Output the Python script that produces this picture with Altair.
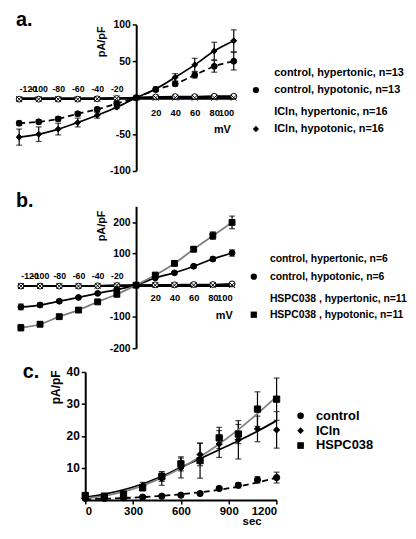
import altair as alt
import pandas as pd

FONT = "Liberation Sans"
XPATH = "M-1,-1L1,1M-1,1L1,-1"

# ---------------- panel a / b : I-V curves ----------------
mv = [-120, -100, -80, -60, -40, -20, 0, 20, 40, 60, 80, 100]

a_names = ["control, hypertonic, n=13", "control, hypotonic, n=13",
           "ICln, hypertonic, n=16", "ICln, hypotonic, n=16"]
a_ctrl_hyper = [-2, -2, -2, -2, -1.5, -1, 0, 1, 1.5, 1.5, 2, 2]
a_ctrl_hyper_err = [1, 1, 1, 1, 1, 0.5, 0, 0.5, 1, 1, 1, 1]
a_ctrl_hypo = [-35, -33, -29, -22, -16, -8, 0, 11, 19, 31, 43, 50]
a_ctrl_hypo_err = [3, 3, 3, 3, 3, 2, 0, 2, 3, 4, 8, 12]
a_icln_hyper = [-2, -2, -2, -2, -1.5, -1, 0, 0, 0, 0, 0, 0]
a_icln_hyper_err = [1, 1, 1, 1, 1, 0.5, 0, 0.5, 1, 1, 1, 1]
a_icln_hypo = [-54, -50, -43, -34, -24, -13, 0, 12, 28, 45, 64, 78]
a_icln_hypo_err = [11, 10, 8, 6, 4, 2, 0, 3, 5, 9, 12, 15]

b_names = ["control, hypertonic, n=6", "control, hypotonic, n=6",
           "HSPC038 , hypertonic, n=11", "HSPC038 , hypotonic, n=11"]
b_ctrl_hyper = [-3, -3, -3, -3, -2, -1, 0, 1, 1, 2, 2, 4]
b_ctrl_hyper_err = [2, 2, 2, 2, 2, 1, 0, 1, 2, 2, 2, 3]
b_ctrl_hypo = [-69, -63, -51, -39, -26, -14, 0, 23, 39, 60, 83, 102]
b_ctrl_hypo_err = [9, 6, 4, 3, 3, 2, 0, 3, 4, 5, 6, 10]
b_hspc_hyper = [-3, -3, -3, -3, -2, -1, 0, 0, 0, 0, 0, 0]
b_hspc_hyper_err = [2, 2, 2, 2, 2, 1, 0, 1, 2, 2, 2, 3]
b_hspc_hypo = [-135, -124, -100, -79, -53, -29, 0, 32, 69, 114, 157, 199]
b_hspc_hypo_err = [10, 8, 6, 5, 4, 4, 0, 4, 5, 8, 12, 20]

# ---------------- panel c : time course ----------------
sec = [0, 120, 240, 360, 480, 600, 720, 840, 960, 1080, 1200]
c_names = ["control", "ICln", "HSPC038"]
c_ctrl = [0.5, 0.5, 0.7, 0.9, 1.2, 1.5, 2.0, 3.6, 4.6, 6.3, 7.0]
c_ctrl_err = [0.2, 0.2, 0.3, 0.3, 0.3, 0.4, 0.4, 0.6, 0.8, 1.0, 1.7]
c_icln = [0.5, 0.8, 1.0, 4.5, 6.7, 10.0, 14.2, 17.5, 18.8, 22.2, 21.9]
c_icln_err = [0.3, 0.5, 1.0, 1.0, 2.1, 3.1, 3.5, 4.2, 6.0, 4.0, 5.7]
c_hspc = [1.4, 1.2, 1.8, 3.8, 7.3, 11.3, 12.3, 19.4, 20.6, 28.4, 31.5]
c_hspc_err = [0.4, 0.5, 1.2, 0.8, 1.5, 2.2, 5.5, 3.3, 3.0, 5.4, 6.6]
c_fit_ctrl = [0.3, 0.4, 0.6, 0.9, 1.3, 1.8, 2.4, 3.2, 4.2, 5.5, 7.0]
c_fit_icln = [0.8, 1.8, 3.2, 5.0, 7.4, 10.2, 12.9, 15.7, 18.5, 21.5, 24.8]
c_fit_hspc = [0.5, 1.3, 2.6, 4.5, 7.0, 10.0, 13.5, 17.5, 22.0, 27.0, 32.3]


def make_df(x, names, vals, errs):
    rows = []
    for n, vs, es in zip(names, vals, errs):
        for xi, v, e in zip(x, vs, es):
            rows.append({"x": xi, "y": v, "lo": v - e, "hi": v + e, "series": n})
    return pd.DataFrame(rows)


def axis(**kw):
    base = dict(labelFont=FONT, labelFontWeight="bold", labelColor="black",
                titleFont=FONT, titleFontWeight="bold", titleColor="black",
                domainColor="black", domainWidth=2, tickColor="black",
                tickWidth=1.5, grid=False, labelOverlap=False,
                labelExpr="'' + datum.value")
    base.update(kw)
    return alt.Axis(**base)


def legend(x, y, size, offset, pad, ssize):
    return alt.Legend(title=None, orient="none", legendX=x, legendY=y, padding=0,
                      labelFont=FONT, labelFontWeight="bold", labelFontSize=size,
                      labelColor="black", labelOffset=offset, rowPadding=pad,
                      symbolStrokeColor="black", symbolStrokeWidth=1,
                      symbolSize=ssize, symbolOpacity=1, labelLimit=0)


def line_layer(df, xs, ys, series, color, dashed):
    kw = dict(color=color, strokeWidth=1.8, interpolate="monotone")
    if dashed:
        kw["strokeDash"] = [6, 4]
    return alt.Chart(df).transform_filter(alt.datum.series == series).mark_line(**kw).encode(
        x=alt.X("x:Q", scale=xs, axis=None), y=alt.Y("y:Q", scale=ys, axis=None))


def label_layer(text, x, y):
    return alt.Chart(pd.DataFrame({"t": [text]})).mark_text(
        align="left", baseline="alphabetic", font=FONT, fontWeight="bold",
        fontSize=20, color="black").encode(
        text="t:N", x=alt.value(x), y=alt.value(y))


def iv_panel(df, names, trt_shape, hypo_color, ctrl_dashed, xr, yr, ydom, yvals, h, y0,
             lab_pad, mv_xy, pa_xy, leg1, leg2, label, label_xy):
    xs = alt.Scale(domain=[-120, 100], range=xr, nice=False, zero=False)
    ys = alt.Scale(domain=ydom, range=yr, nice=False, zero=False)
    x0 = xr[0] + (xr[1] - xr[0]) * 120 / 220
    top_axis = axis(orient="top", offset=-y0, values=[-120, -100, -80, -60, -40, -20],
                    ticks=False, labelPadding=5, labelFontSize=8.8, title=None)
    bottom_axis = axis(orient="bottom", offset=y0 - h, values=[20, 40, 60, 80, 100],
                       ticks=False, labelPadding=lab_pad, labelFontSize=9.4,
                       title="mV", titleFontSize=11, titleX=mv_xy[0], titleY=mv_xy[1],
                       titleAlign="center", titleBaseline="middle")
    y_axis = axis(orient="left", offset=-x0, values=yvals, tickSize=4, labelPadding=2,
                  labelFontSize=10.5, title="pA/pF", titleFontSize=11,
                  titleX=pa_xy[0] - x0, titleY=pa_xy[1], titleAlign="center",
                  titleBaseline="middle")
    base = alt.Chart(df)
    rules = base.mark_rule(color="black", strokeWidth=1.2).encode(
        x=alt.X("x:Q", scale=xs, axis=top_axis),
        y=alt.Y("lo:Q", scale=ys, axis=y_axis), y2="hi:Q")
    caps_hi = base.mark_tick(orient="horizontal", size=6, thickness=1.2, color="black").encode(
        x=alt.X("x:Q", scale=xs, axis=bottom_axis), y=alt.Y("hi:Q", scale=ys, axis=None))
    caps_lo = base.mark_tick(orient="horizontal", size=6, thickness=1.2, color="black").encode(
        x=alt.X("x:Q", scale=xs, axis=None), y=alt.Y("lo:Q", scale=ys, axis=None))
    lines = [line_layer(df, xs, ys, names[0], "black", False),
             line_layer(df, xs, ys, names[2], "black", False),
             line_layer(df, xs, ys, names[1], "black", ctrl_dashed),
             line_layer(df, xs, ys, names[3], hypo_color, False)]
    ctrl = names[:2]
    trt = names[2:]
    pts_c = base.transform_filter(alt.FieldOneOfPredicate(field="series", oneOf=ctrl)).mark_point(
        filled=True, stroke="black", strokeWidth=1, size=35, opacity=1).encode(
        x=alt.X("x:Q", scale=xs, axis=None), y=alt.Y("y:Q", scale=ys, axis=None),
        shape=alt.Shape("series:N", scale=alt.Scale(domain=ctrl, range=["circle", "circle"]), legend=leg1),
        fill=alt.Fill("series:N", scale=alt.Scale(domain=ctrl, range=["white", "black"]), legend=leg1))
    pts_t = base.transform_filter(alt.FieldOneOfPredicate(field="series", oneOf=trt)).mark_point(
        filled=True, stroke="black", strokeWidth=1, size=35, opacity=1).encode(
        x=alt.X("x:Q", scale=xs, axis=None), y=alt.Y("y:Q", scale=ys, axis=None),
        shape=alt.Shape("series:N", scale=alt.Scale(domain=trt, range=[XPATH, trt_shape]), legend=leg2),
        fill=alt.Fill("series:N", scale=alt.Scale(domain=trt, range=["black", "black"]), legend=leg2))
    lab = label_layer(label, label_xy[0], label_xy[1])
    return alt.layer(rules, caps_hi, caps_lo, *lines, pts_c, pts_t, lab).resolve_axis(
        x="independent", y="independent").resolve_scale(
        shape="independent", fill="independent").properties(width=400, height=h)


df_a = make_df(mv, a_names, [a_ctrl_hyper, a_ctrl_hypo, a_icln_hyper, a_icln_hypo],
               [a_ctrl_hyper_err, a_ctrl_hypo_err, a_icln_hyper_err, a_icln_hypo_err])
df_b = make_df(mv, b_names, [b_ctrl_hyper, b_ctrl_hypo, b_hspc_hyper, b_hspc_hypo],
               [b_ctrl_hyper_err, b_ctrl_hypo_err, b_hspc_hyper_err, b_hspc_hypo_err])

H_A, H_B, H_C = 167, 178, 175

panel_a = iv_panel(df_a, a_names, "diamond", "black", True,
                   [11.3, 228], [161.7, 14.3], [-100, 100], [-100, -50, 50, 100],
                   H_A, 88.3, 11, (216, 32), (94.7, 31),
                   legend(244.9, 57.2, 11, 13, 5.6, 40), legend(244.9, 96.5, 11, 13, 5.6, 40),
                   "a.", (8, 16))

panel_b = iv_panel(df_b, b_names, "square", "#808080", False,
                   [13, 226.3], [173, 29.7], [-200, 250], [-200, -100, 100, 200],
                   H_B, 109.7, 8, (218, 30), (94.7, 49),
                   legend(243, 77.7, 10.5, 11, 6.8, 40), legend(243, 117.7, 10.5, 11, 5.2, 40),
                   "b.", (8, 30))

# panel c
df_c = make_df(sec, c_names, [c_ctrl, c_icln, c_hspc], [c_ctrl_err, c_icln_err, c_hspc_err])
fit_rows = []
for n, f in zip(c_names, [c_fit_ctrl, c_fit_icln, c_fit_hspc]):
    for xi, v in zip(sec, f):
        fit_rows.append({"x": xi, "y": v, "series": n})
df_fit = pd.DataFrame(fit_rows)

xs_c = alt.Scale(domain=[0, 1200], range=[78, 271.3], nice=False, zero=False)
ys_c = alt.Scale(domain=[0, 40], range=[147.3, 18], nice=False, zero=False)
x_axis_c = axis(orient="bottom", offset=147.3 - H_C, values=[0, 300, 600, 900, 1200],
                tickSize=4, labelPadding=2, labelFontSize=11.5, title="sec",
                titleFontSize=11.5, titleX=246, titleY=22, titleAlign="center",
                titleBaseline="middle")
y_axis_c = axis(orient="left", offset=-78, values=[10, 20, 30, 40], tickSize=4,
                labelPadding=2, labelFontSize=12, title="pA/pF", titleFontSize=12,
                titleX=-30, titleY=33, titleAlign="center", titleBaseline="middle")
base_c = alt.Chart(df_c)
rules_c = base_c.mark_rule(color="black", strokeWidth=1.2).encode(
    x=alt.X("x:Q", scale=xs_c, axis=x_axis_c),
    y=alt.Y("lo:Q", scale=ys_c, axis=y_axis_c), y2="hi:Q")
caps_hi_c = base_c.mark_tick(orient="horizontal", size=6, thickness=1.2, color="black").encode(
    x=alt.X("x:Q", scale=xs_c, axis=None), y=alt.Y("hi:Q", scale=ys_c, axis=None))
caps_lo_c = base_c.mark_tick(orient="horizontal", size=6, thickness=1.2, color="black").encode(
    x=alt.X("x:Q", scale=xs_c, axis=None), y=alt.Y("lo:Q", scale=ys_c, axis=None))
lines_c = [line_layer(df_fit, xs_c, ys_c, "control", "black", True),
           line_layer(df_fit, xs_c, ys_c, "ICln", "black", False),
           line_layer(df_fit, xs_c, ys_c, "HSPC038", "#808080", False)]
leg_c = legend(289, 55.8, 13, 9, 1, 45)
pts_c = base_c.mark_point(filled=True, stroke="black", strokeWidth=1, size=40, opacity=1).encode(
    x=alt.X("x:Q", scale=xs_c, axis=None), y=alt.Y("y:Q", scale=ys_c, axis=None),
    shape=alt.Shape("series:N", scale=alt.Scale(domain=c_names, range=["circle", "diamond", "square"]), legend=leg_c),
    fill=alt.Fill("series:N", scale=alt.Scale(domain=c_names, range=["black", "black", "black"]), legend=leg_c))
panel_c = alt.layer(rules_c, caps_hi_c, caps_lo_c, *lines_c, pts_c, label_layer("c.", 15, 24)).resolve_axis(
    x="independent", y="independent").properties(width=400, height=H_C)

chart = alt.vconcat(panel_a, panel_b, panel_c, spacing=0).resolve_scale(
    shape="independent", fill="independent").configure(
    font=FONT, view=alt.ViewConfig(stroke=None)).properties(padding=0)

chart.save("out.html", embed_options={"renderer": "svg", "actions": False})
